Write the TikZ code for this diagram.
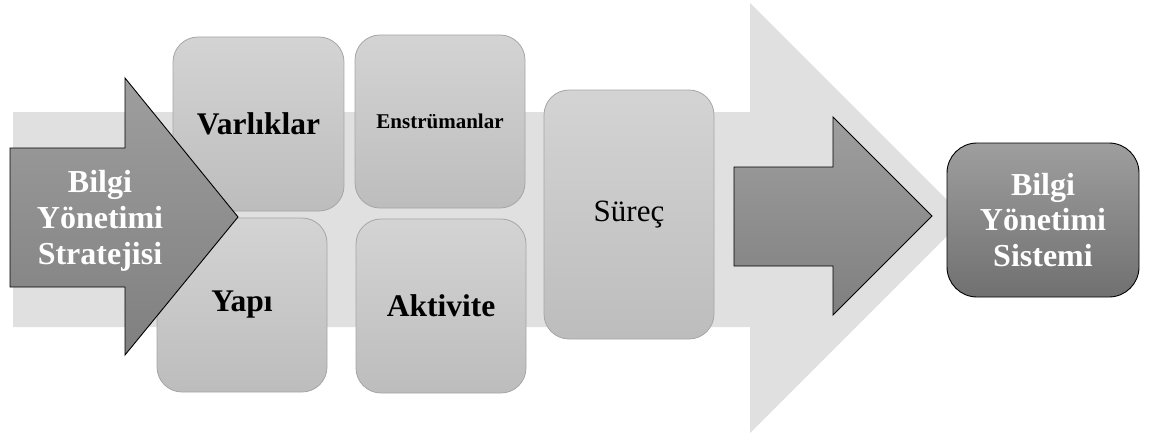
\documentclass[tikz,border=0pt]{standalone}
\usepackage{fontspec}
\setmainfont{Liberation Serif}
\begin{document}
\begin{tikzpicture}[x=1pt,y=-1pt,
  tile/.style={rectangle, rounded corners=25pt, draw=black!35, line width=0.8pt,
    top color=black!17, bottom color=black!26, inner sep=0pt, align=center,
    minimum width=170pt, minimum height=174pt},
  darkshape/.style={draw=black, line width=0.9pt, top color=black!38, bottom color=black!50},
  bigtxt/.style={font=\bfseries\fontsize{31.5}{36}\selectfont},
  whitetxt/.style={font=\bfseries\fontsize{32}{35.5}\selectfont, text=white, align=center}]
\useasboundingbox (0,0) rectangle (1153,436);

% large pale arrow in the background
\fill[black!12] (13,112) -- (750,112) -- (750,3) -- (965,218) -- (750,433)
  -- (750,327) -- (13,327) -- cycle;

% component tiles
\node[tile, bigtxt, minimum width=171pt] (varliklar) at (258.5,124) {Varlıklar};
\node[tile, font=\bfseries\fontsize{21}{25}\selectfont, minimum height=173pt] (enstr) at (440,121.5) {Enstrümanlar};
\node[tile, bigtxt] (yapi) at (242,305) {Yapı};
\node[tile, bigtxt] (aktivite) at (441,306) {Aktivite};
\node[tile, font=\fontsize{31}{36}\selectfont, minimum height=249pt] (surec) at (629,214.5) {Süreç};

% strategy arrow
\shade[darkshape] (10,148) -- (125,148) -- (125,78) -- (238,217) -- (125,355)
  -- (125,287) -- (10,287) -- cycle;
\node[whitetxt, font=\bfseries\fontsize{32}{36}\selectfont] (strateji) at (100,221) {Bilgi\\Yönetimi\\Stratejisi};

% output arrow
\shade[darkshape] (734,167) -- (833,167) -- (833,117) -- (932,216) -- (833,315)
  -- (833,266) -- (734,266) -- cycle;

% resulting system
\node[rectangle, rounded corners=30pt, draw=black, line width=0.9pt,
  top color=black!38, bottom color=black!56, minimum width=192pt, minimum height=154pt,
  inner sep=0pt, whitetxt] (sistem) at (1043,220) {Bilgi\\Yönetimi\\Sistemi};
\end{tikzpicture}
\end{document}
